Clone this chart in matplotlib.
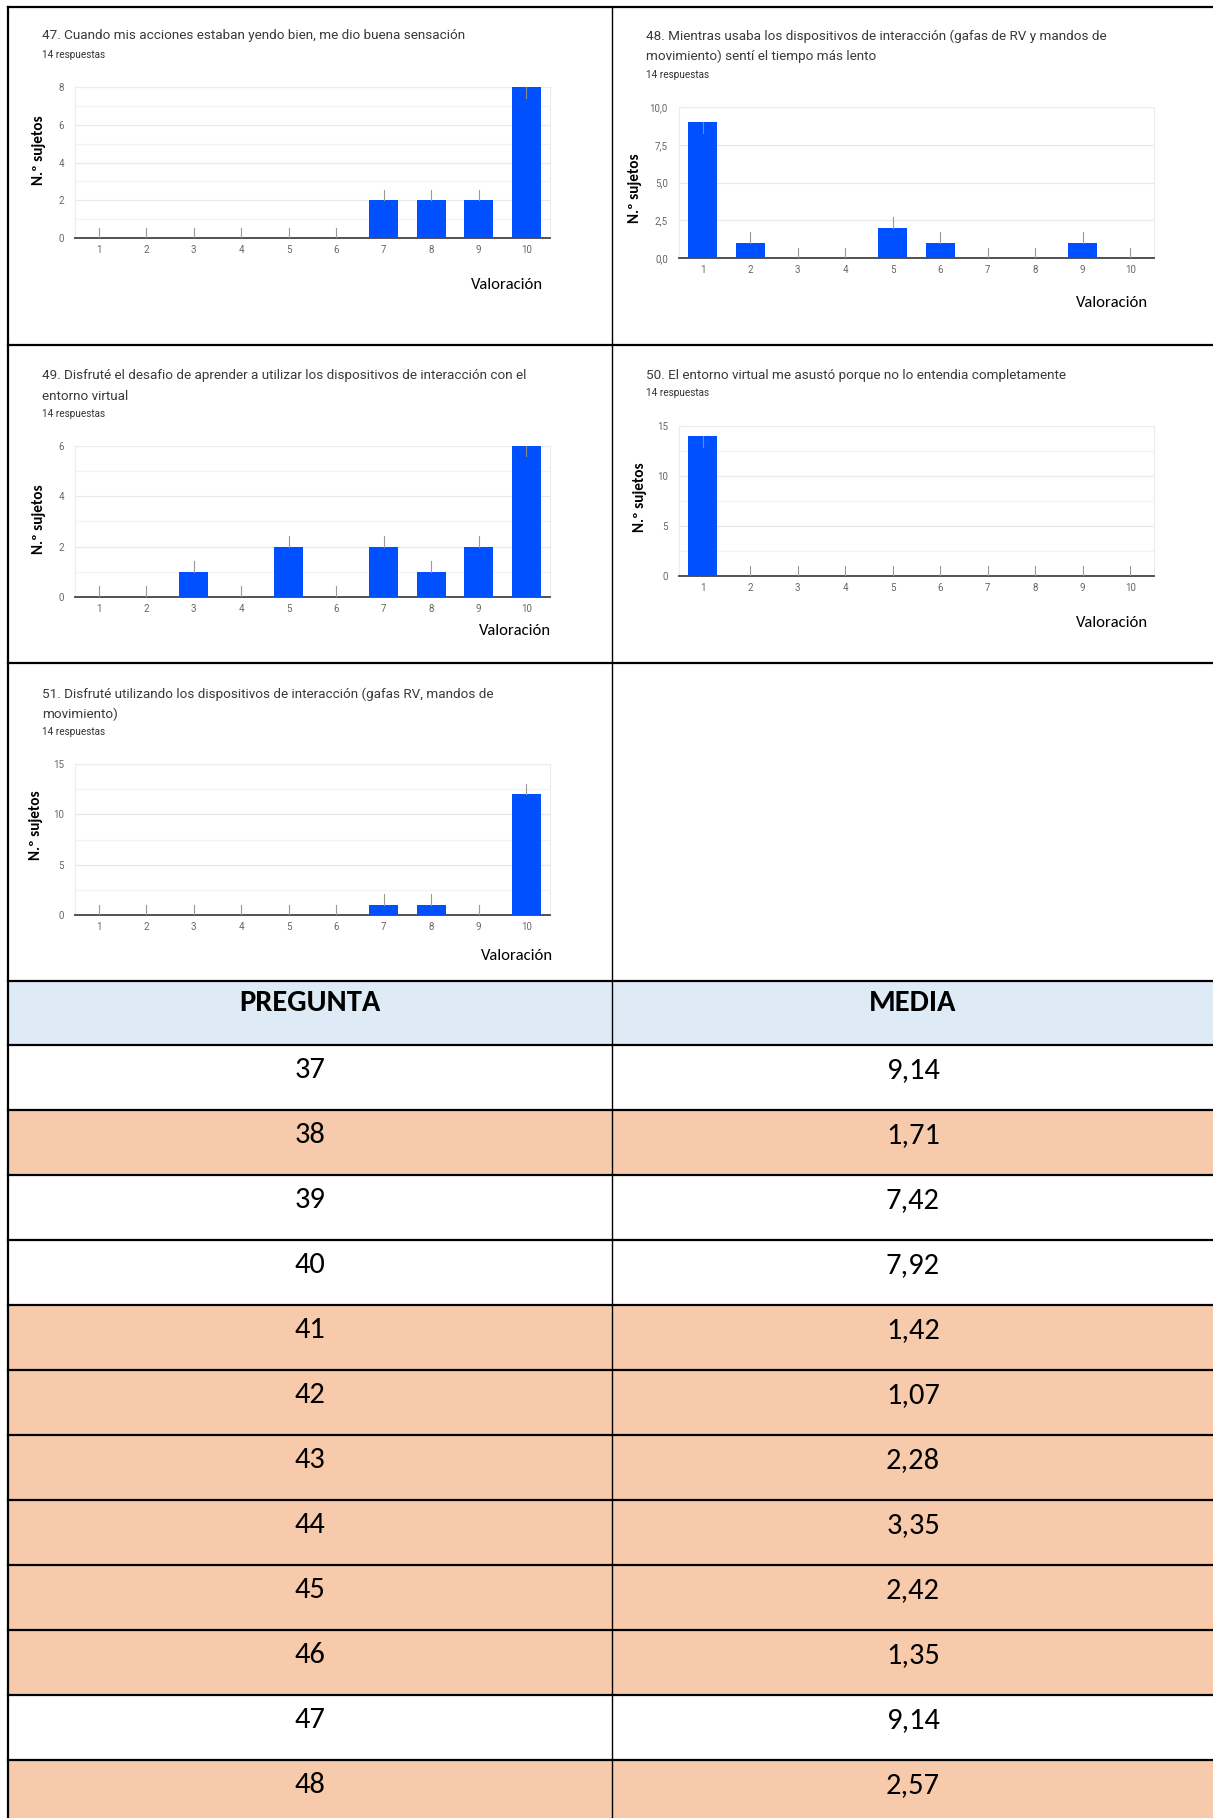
import matplotlib
matplotlib.use('Agg')
import matplotlib.pyplot as plt
from matplotlib import font_manager
from matplotlib.patches import Rectangle
from matplotlib.ticker import FuncFormatter, MultipleLocator

# ---- datos ----
valoraciones = list(range(1, 11))
p47 = [0, 0, 0, 0, 0, 0, 2, 2, 2, 8]
p48 = [9, 1, 0, 0, 2, 1, 0, 0, 1, 0]
p49 = [0, 0, 1, 0, 2, 0, 2, 1, 2, 6]
p50 = [14, 0, 0, 0, 0, 0, 0, 0, 0, 0]
p51 = [0, 0, 0, 0, 0, 0, 1, 1, 0, 12]

t47 = '47. Cuando mis acciones estaban yendo bien, me dio buena sensación'
t48 = ('48. Mientras usaba los dispositivos de interacción (gafas de RV y mandos de\n'
       'movimiento) sentí el tiempo más lento')
t49 = ('49. Disfruté el desafio de aprender a utilizar los dispositivos de interacción con el\n'
       'entorno virtual')
t50 = '50. El entorno virtual me asustó porque no lo entendia completamente'
t51 = ('51. Disfruté utilizando los dispositivos de interacción (gafas RV, mandos de\n'
       'movimiento)')
respuestas = '14 respuestas'

preguntas = [37, 38, 39, 40, 41, 42, 43, 44, 45, 46, 47, 48]
medias = [9.14, 1.71, 7.42, 7.92, 1.42, 1.07, 2.28, 3.35, 2.42, 1.35, 9.14, 2.57]
resaltadas = [False, True, False, False, True, True, True, True, True, True, False, True]

# ---- estilo ----
W, H = 1213, 1818
AZUL = '#0050ff'
NARANJA = '#f7caac'
CELESTE = '#deeaf6'

nombres = {f.name for f in font_manager.fontManager.ttflist}
CALIBRI = 'Liberation Sans'
for cand in ['Carlito', 'Liberation Sans Narrow', 'Roboto Condensed']:
    if cand in nombres:
        CALIBRI = cand
        break
ESTRECHA = CALIBRI != 'Liberation Sans'
GOOGLE = 'Roboto'

# tamaños segun la fuente disponible
T_TABLA = 22 if ESTRECHA else 19
T_EJE = 12 if ESTRECHA else 11
T_YLAB = 11 if ESTRECHA else 10.5

fig = plt.figure(figsize=(W / 100, H / 100), dpi=100)


def px_axes(l, t, r, b, **kw):
    return fig.add_axes([l / W, 1 - b / H, (r - l) / W, (b - t) / H], **kw)


def fig_text(x, y, s, **kw):
    fig.text(x / W, 1 - y / H, s, **kw)


# fondo: marco y tabla en coordenadas de pixel
fondo = px_axes(0, 0, W, H, zorder=0)
fondo.set_xlim(0, W)
fondo.set_ylim(H, 0)
fondo.axis('off')

# tabla
cab_top, cab_bot, fila_h = 981, 1045, 65
fondo.add_patch(Rectangle((8, cab_top), W - 8, cab_bot - cab_top, color=CELESTE, lw=0))
for i, (p, m, res) in enumerate(zip(preguntas, medias, resaltadas)):
    top = cab_bot + i * fila_h
    fondo.add_patch(Rectangle((8, top), W - 8, fila_h, color=NARANJA if res else 'white', lw=0))
    fondo.text(310, top + 25, str(p), ha='center', va='center', fontsize=T_TABLA, family=CALIBRI)
    fondo.text(913, top + 25, f'{m:.2f}'.replace('.', ','), ha='center', va='center',
               fontsize=T_TABLA, family=CALIBRI)
    fondo.plot([8, W], [top, top], color='black', lw=1.6)
fondo.text(310, 1003, 'PREGUNTA', ha='center', va='center', fontsize=T_TABLA,
           family=CALIBRI, weight='bold')
fondo.text(913, 1003, 'MEDIA', ha='center', va='center', fontsize=T_TABLA,
           family=CALIBRI, weight='bold')

# lineas del marco
for y in [7, 345, 663, 981]:
    fondo.plot([8, W], [y, y], color='black', lw=1.6)
fondo.plot([8, 8], [7, H], color='black', lw=1.6)
fondo.plot([612, 612], [7, H], color='black', lw=1.0)

# ---- graficos ----
paneles = [
    # valores, titulo, (l, t, r, b), ymax, paso, menores, decimal, titulo_y, resp_y, val_xy, ylab_xy
    (p47, t47, (75, 87, 550, 238), 8, 2, True, False, 36, 55, (507, 285), (39, 150)),
    (p48, t48, (679, 107, 1154, 258), 10, 2.5, False, True, 36, 75, (1112, 303), (635, 188)),
    (p49, t49, (75, 446, 550, 597), 6, 2, True, False, 376, 414, (515, 631), (39, 519)),
    (p50, t50, (679, 426, 1154, 576), 15, 5, True, False, 376, 393, (1112, 623), (640, 497)),
    (p51, t51, (75, 764, 550, 915), 15, 5, True, False, 694, 732, (517, 956), (36, 825)),
]

for vals, titulo, caja, ymax, paso, menores, decimal, ty, ry, vxy, lxy in paneles:
    l, t, r, b = caja
    ax = px_axes(l, t, r, b, zorder=2)
    ax.bar(valoraciones, vals, width=0.62, color=AZUL, zorder=3)
    ax.set_xlim(0.5, 10.5)
    ax.set_ylim(0, ymax)
    ax.set_xticks(valoraciones)
    ax.yaxis.set_major_locator(MultipleLocator(paso))
    if menores:
        ax.yaxis.set_minor_locator(MultipleLocator(paso / 2))
        ax.grid(axis='y', which='minor', color='#f2f2f2', lw=0.9, zorder=0)
    ax.grid(axis='y', which='major', color='#e9e9e9', lw=0.9, zorder=0)
    if decimal:
        ax.yaxis.set_major_formatter(FuncFormatter(lambda v, _: f'{v:.1f}'.replace('.', ',')))
    ax.tick_params(axis='both', which='both', length=0, labelsize=7, colors='#666666',
                   labelfontfamily=GOOGLE)
    ax.tick_params(axis='x', pad=5)
    ax.tick_params(axis='y', pad=8)
    for lado in ['left', 'top', 'right']:
        ax.spines[lado].set_color('#ececec')
        ax.spines[lado].set_linewidth(0.8)
    ax.spines['bottom'].set_color('#444444')
    ax.spines['bottom'].set_linewidth(1.3)

    # marcas verticales sobre cada barra
    largo = 10.5 / (b - t) * ymax
    for x, v in zip(valoraciones, vals):
        if v + 2 * largo > ymax:
            ax.plot([x, x], [v - largo, v], color='#8a8a8a', lw=0.8, zorder=4)
        else:
            ax.plot([x, x], [v, v + largo], color='#999999', lw=0.8, zorder=4)

    tx = 42 if l < 600 else 646
    lineas = titulo.split('\n')
    for k, linea in enumerate(lineas):
        fig_text(tx, ty + 20 * k, linea, fontsize=9.7, family=GOOGLE, color='#3a3a3a',
                 va='center')
    fig_text(tx, ry, respuestas, fontsize=7.2, family=GOOGLE, color='#333333', va='center')
    fig_text(vxy[0], vxy[1], 'Valoración', fontsize=T_EJE, family=CALIBRI, ha='center',
             va='center')
    fig_text(lxy[0], lxy[1], 'N.º sujetos', fontsize=T_YLAB, family=CALIBRI, weight='bold',
             rotation=90, ha='center', va='center')

fig.savefig('out.png', dpi=100, facecolor='white')
